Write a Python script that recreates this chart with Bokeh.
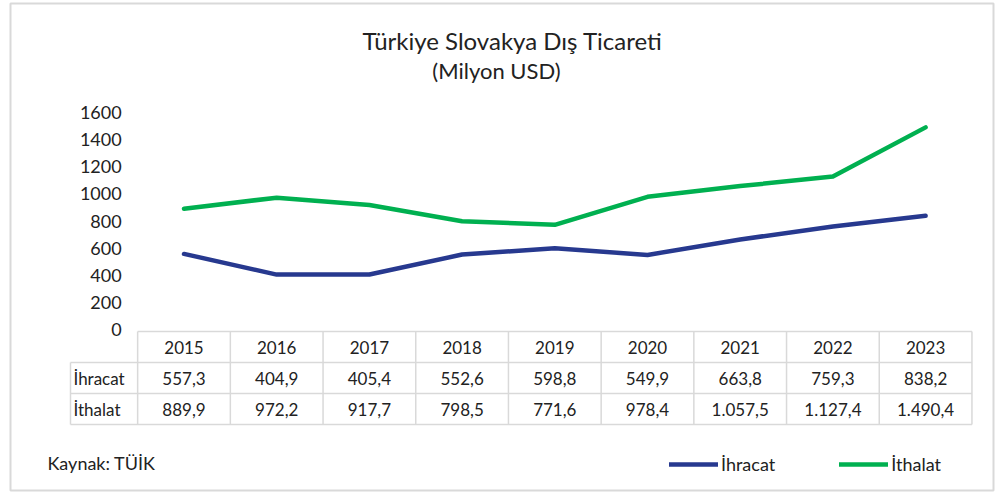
from bokeh.plotting import figure
from bokeh.models import Range1d, LinearAxis, FixedTicker, ColumnDataSource, Legend, LegendItem
from bokeh.core.properties import value
from bokeh.embed import file_html
from bokeh.resources import INLINE

# ---------------- data ----------------
years = ["2015", "2016", "2017", "2018", "2019", "2020", "2021", "2022", "2023"]
ihracat = [557.3, 404.9, 405.4, 552.6, 598.8, 549.9, 663.8, 759.3, 838.2]
ithalat = [889.9, 972.2, 917.7, 798.5, 771.6, 978.4, 1057.5, 1127.4, 1490.4]
series_names = ["İhracat", "İthalat"]
y_ticks = [0, 200, 400, 600, 800, 1000, 1200, 1400, 1600]
title_text = "Türkiye Slovakya Dış Ticareti"
subtitle_text = "(Milyon USD)"
source_text = "Kaynak: TÜİK"

# ---------------- style ----------------
BLUE = "#27398F"
GREEN = "#00B050"
TXT = "#222222"
GRID = "#d9d9d9"
FONT = "Lato"


def tr(v):
    s = f"{v:,.1f}"
    return s.replace(",", "X").replace(".", ",").replace("X", ".")


# ---------------- geometry (picture pixels) ----------------
FIG_W, FIG_H = 995, 492
FRAME_L, FRAME_R = 10, 993
FRAME_T, FRAME_B = 3, 490
X0_PX, X_STEP = 183.5, 92.7
Y0_PX, Y_PX_PER = 329.0, 217.0 / 1600


def xd(px):
    return (px - X0_PX) / X_STEP


def yd(py):
    return (Y0_PX - py) / Y_PX_PER


p = figure(width=FIG_W, height=FIG_H, output_backend="svg", toolbar_location=None,
           x_range=Range1d(xd(FRAME_L), xd(FRAME_R)),
           y_range=Range1d(yd(FRAME_B), yd(FRAME_T)),
           x_axis_location=None, y_axis_location=None,
           min_border_left=FRAME_L, min_border_right=FIG_W - FRAME_R,
           min_border_top=FRAME_T, min_border_bottom=FIG_H - FRAME_B)
p.grid.visible = False
p.outline_line_color = GRID
p.outline_line_width = 2
p.background_fill_color = "white"
p.border_fill_color = "white"

yax = LinearAxis(fixed_location=-0.5, ticker=FixedTicker(ticks=y_ticks),
                 axis_line_color=None, major_tick_line_color=None, minor_tick_line_color=None,
                 major_tick_in=0, major_tick_out=0, major_label_standoff=16,
                 major_label_text_font=FONT, major_label_text_font_size="18px",
                 major_label_text_color=TXT)
p.add_layout(yax, "left")

# ---------------- lines ----------------
xs = list(range(len(years)))
src = ColumnDataSource(dict(x=xs, ihracat=ihracat, ithalat=ithalat))
r1 = p.line("x", "ihracat", source=src, line_color=BLUE, line_width=4.5,
            line_cap="round", line_join="round")
r2 = p.line("x", "ithalat", source=src, line_color=GREEN, line_width=4.5,
            line_cap="round", line_join="round")

# ---------------- data table ----------------
row_edges = [331, 362, 393, 424]
row_mid = [(row_edges[i] + row_edges[i + 1]) / 2 for i in range(3)]
lab_left = xd(70)
n = len(years)

h_x0 = [-0.5] + [lab_left] * 3
h_x1 = [n - 0.5] * 4
h_y = [yd(v) for v in row_edges]
v_x = [k - 0.5 for k in range(n + 1)] + [lab_left]
v_y0 = [yd(row_edges[0])] * (n + 1) + [yd(row_edges[1])]
v_y1 = [yd(row_edges[3])] * (n + 2)
p.segment(x0=h_x0, y0=h_y, x1=h_x1, y1=h_y, line_color=GRID, line_width=1.5)
p.segment(x0=v_x, y0=v_y0, x1=v_x, y1=v_y1, line_color=GRID, line_width=1.5)

common = dict(text_font=value(FONT), text_font_size="17px", text_color=TXT,
              text_baseline="middle")
p.text(x=xs, y=[yd(row_mid[0])] * n, text=years, text_align="center", **common)
p.text(x=xs, y=[yd(row_mid[1])] * n, text=[tr(v) for v in ihracat], text_align="center", **common)
p.text(x=xs, y=[yd(row_mid[2])] * n, text=[tr(v) for v in ithalat], text_align="center", **common)
p.text(x=[xd(73)] * 2, y=[yd(row_mid[1]), yd(row_mid[2])], text=series_names,
       text_align="left", **common)

# ---------------- titles / source ----------------
p.text(x=[xd(512)], y=[yd(40)], text=[title_text], text_align="center",
       text_baseline="middle", text_font=value(FONT), text_font_size="24px", text_color=TXT)
p.text(x=[xd(496)], y=[yd(70)], text=[subtitle_text], text_align="center",
       text_baseline="middle", text_font=value(FONT), text_font_size="22px", text_color=TXT)
p.text(x=[xd(47)], y=[yd(462)], text=[source_text], text_align="left",
       text_baseline="middle", text_font=value(FONT), text_font_size="18px", text_color=TXT)

# ---------------- legend ----------------
legend = Legend(items=[LegendItem(label=series_names[0], renderers=[r1]),
                       LegendItem(label=series_names[1], renderers=[r2])],
                orientation="horizontal", location=(669 - FRAME_L, FRAME_B - 475),
                padding=0, margin=0, spacing=64, glyph_width=49, glyph_height=20,
                label_height=20, label_standoff=3, label_text_font=FONT,
                label_text_font_size="18px", label_text_color=TXT,
                border_line_color=None, background_fill_alpha=0)
p.add_layout(legend)

open("out.html", "w").write(file_html(p, INLINE))
